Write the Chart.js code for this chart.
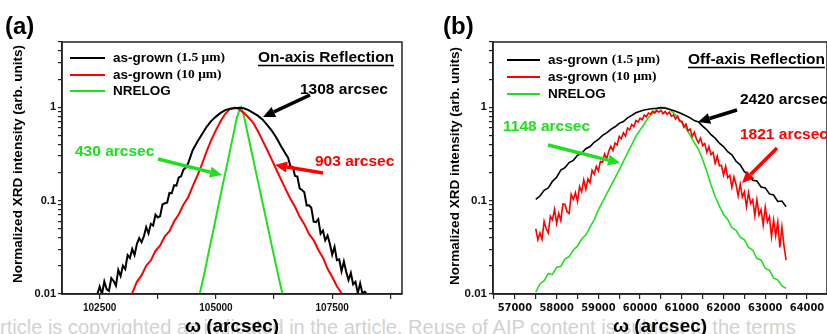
<!DOCTYPE html>
<html>
<head>
<meta charset="utf-8">
<script src="https://cdn.jsdelivr.net/npm/chart.js@4.4.0/dist/chart.umd.min.js"></script>
<style>
  html, body { margin: 0; padding: 0; background: #fff; }
  body { width: 827px; height: 334px; overflow: hidden; position: relative; }
  #wm { position: absolute; left: -11px; top: 316px; line-height: 20px; font: 20px "Liberation Sans", Arial, sans-serif; color: #d2d2d2; white-space: nowrap; }
  canvas { position: absolute; top: 0; }
  #chartA { left: 0; }
  #chartB { left: 410px; }
</style>
</head>
<body>
<div id="wm">article is copyrighted as indicated in the article. Reuse of AIP content is subject to the terms</div>
<canvas id="chartA" width="410" height="334"></canvas>
<canvas id="chartB" width="440" height="334"></canvas>
<script>
// ---- data ----
// panel (a), on-axis
const omegaBlackA = [102450, 102500, 102550, 102600, 102650, 102700, 102750, 102800, 102850, 102900,
  102950, 103000, 103050, 103100, 103150, 103200, 103250, 103300, 103350, 103400,
  103450, 103500, 103550, 103600, 103650, 103700, 103750, 103800, 103850, 103900,
  103950, 104000, 104050, 104100, 104150, 104200, 104250, 104300, 104350, 104400,
  104500, 104600, 104700, 104800, 104900, 105000, 105100, 105200, 105300, 105400,
  105500, 105600, 105700, 105800, 105900, 106000, 106100, 106200, 106300, 106400,
  106500, 106550, 106600, 106650, 106700, 106750, 106800, 106850, 106900, 106950,
  107000, 107050, 107100, 107150, 107200, 107250, 107300, 107350, 107400, 107450,
  107500, 107550, 107600, 107650, 107700, 107750, 107800, 107850, 107900, 107950,
  108000, 108050, 108100, 108150, 108200, 108250];
const blackA = [0.0100, 0.0120, 0.0100, 0.0136, 0.0113, 0.0108, 0.0148, 0.0138, 0.0123, 0.0181,
  0.0156, 0.0201, 0.0185, 0.0261, 0.0243, 0.0303, 0.0262, 0.0343, 0.0398, 0.0359,
  0.0414, 0.0521, 0.0446, 0.0564, 0.0541, 0.0706, 0.0660, 0.0683, 0.0909, 0.0937,
  0.0949, 0.121, 0.120, 0.146, 0.145, 0.177, 0.182, 0.214, 0.226, 0.25,
  0.347, 0.427, 0.513, 0.617, 0.716, 0.794, 0.871, 0.933, 0.966, 0.977,
  0.99, 0.977, 0.933, 0.871, 0.813, 0.741, 0.646, 0.562, 0.472, 0.383,
  0.316, 0.289, 0.233, 0.229, 0.184, 0.181, 0.135, 0.130, 0.123, 0.0888,
  0.0893, 0.084, 0.0594, 0.0588, 0.0633, 0.0442, 0.0477, 0.0375, 0.0422, 0.0343,
  0.0264, 0.0320, 0.0230, 0.0235, 0.0175, 0.0223, 0.0173, 0.0141, 0.0168, 0.0127,
  0.0135, 0.0102, 0.0130, 0.0101, 0.0106, 0.0098];

const omegaRedA = [103200, 103300, 103400, 103500, 103600, 103700, 103800, 103900, 104000, 104100,
  104200, 104300, 104400, 104500, 104600, 104700, 104800, 104900, 105000, 105100,
  105200, 105300, 105400, 105500, 105600, 105700, 105800, 105900, 106000, 106100,
  106200, 106300, 106400, 106500, 106600, 106700, 106800, 106900, 107000, 107100,
  107200, 107300, 107400, 107500, 107600, 107700];
const redA = [0.0102, 0.0135, 0.0158, 0.0201, 0.0229, 0.0290, 0.0332, 0.0415, 0.0470, 0.0598,
  0.0715, 0.0902, 0.108, 0.142, 0.185, 0.246, 0.338, 0.447, 0.569, 0.708,
  0.851, 0.955, 0.99, 0.955, 0.871, 0.776, 0.684, 0.556, 0.442, 0.351,
  0.275, 0.214, 0.168, 0.132, 0.105, 0.086, 0.067, 0.056, 0.0440, 0.0378,
  0.0298, 0.0245, 0.0186, 0.0152, 0.0121, 0.0102];

const omegaGreenA = [104650, 104750, 104850, 104950, 105050, 105150, 105250, 105350, 105450, 105500,
  105540, 105600, 105700, 105800, 105900, 106000, 106100, 106200, 106300, 106400, 106440];
const greenA = [0.0100, 0.0166, 0.029, 0.050, 0.087, 0.151, 0.257, 0.447, 0.776, 0.92,
  1.0, 0.81, 0.475, 0.279, 0.164, 0.096, 0.0565, 0.033, 0.0195, 0.0115, 0.0098];

// panel (b), off-axis
const omegaB = [57500, 57600, 57700, 57800, 57900, 58000, 58100, 58200, 58300, 58400,
  58500, 58600, 58700, 58800, 58900, 59000, 59100, 59200, 59300, 59400,
  59500, 59600, 59700, 59800, 59900, 60000, 60100, 60200, 60300, 60400,
  60500, 60600, 60700, 60800, 60900, 61000, 61100, 61200, 61300, 61400,
  61500, 61600, 61700, 61800, 61900, 62000, 62100, 62200, 62300, 62400,
  62500, 62600, 62700, 62800, 62900, 63000, 63100, 63200, 63300, 63400, 63500];
const blackB = [0.103, 0.112, 0.129, 0.137, 0.161, 0.178, 0.212, 0.226, 0.256, 0.270,
  0.306, 0.322, 0.360, 0.380, 0.422, 0.452, 0.500, 0.532, 0.581, 0.618,
  0.672, 0.703, 0.770, 0.818, 0.874, 0.908, 0.936, 0.952, 0.968, 0.975,
  0.99, 0.978, 0.953, 0.925, 0.888, 0.853, 0.810, 0.770, 0.720, 0.695,
  0.628, 0.573, 0.508, 0.467, 0.412, 0.380, 0.334, 0.310, 0.264, 0.242,
  0.204, 0.189, 0.165, 0.162, 0.140, 0.137, 0.118, 0.115, 0.098, 0.099, 0.086];

const omegaRedB = [57500, 57550, 57600, 57650, 57700, 57750, 57800, 57850, 57900, 57950,
  58000, 58050, 58100, 58150, 58200, 58250, 58300, 58350, 58400, 58450,
  58500, 58550, 58600, 58650, 58700, 58750, 58800, 58850, 58900, 58950,
  59000, 59050, 59100, 59150, 59200, 59250, 59300, 59350, 59400, 59450,
  59500, 59550, 59600, 59650, 59700, 59750, 59800, 59850, 59900, 59950,
  60000, 60050, 60100, 60150, 60200, 60250, 60300, 60350, 60400, 60450,
  60500, 60550, 60600, 60650, 60700, 60750, 60800, 60850, 60900, 60950,
  61000, 61050, 61100, 61150, 61200, 61250, 61300, 61350, 61400, 61450,
  61500, 61550, 61600, 61650, 61700, 61750, 61800, 61850, 61900, 61950,
  62000, 62050, 62100, 62150, 62200, 62250, 62300, 62350, 62400, 62450,
  62500, 62550, 62600, 62650, 62700, 62750, 62800, 62850, 62900, 62950,
  63000, 63050, 63100, 63150, 63200, 63250, 63300, 63350, 63400, 63450, 63500];
const redB = [0.050, 0.038, 0.045, 0.0385, 0.060, 0.050, 0.045, 0.068, 0.062, 0.081,
  0.057, 0.073, 0.061, 0.092, 0.091, 0.076, 0.073, 0.117, 0.103, 0.122,
  0.098, 0.141, 0.124, 0.167, 0.132, 0.171, 0.155, 0.212, 0.192, 0.233,
  0.209, 0.263, 0.258, 0.316, 0.281, 0.339, 0.383, 0.344, 0.414, 0.394,
  0.488, 0.460, 0.532, 0.491, 0.601, 0.574, 0.655, 0.618, 0.720, 0.695,
  0.763, 0.736, 0.826, 0.792, 0.866, 0.844, 0.907, 0.864, 0.920, 0.884,
  0.929, 0.855, 0.899, 0.840, 0.885, 0.799, 0.829, 0.750, 0.805, 0.706,
  0.706, 0.611, 0.661, 0.562, 0.584, 0.489, 0.541, 0.457, 0.416, 0.468,
  0.387, 0.409, 0.330, 0.380, 0.311, 0.328, 0.251, 0.299, 0.236, 0.239,
  0.188, 0.233, 0.176, 0.187, 0.139, 0.179, 0.149, 0.112, 0.150, 0.109,
  0.124, 0.086, 0.122, 0.093, 0.102, 0.069, 0.102, 0.070, 0.080, 0.055,
  0.085, 0.059, 0.067, 0.041, 0.062, 0.042, 0.059, 0.0315, 0.052, 0.0324, 0.023];

const greenB = [0.0105, 0.0128, 0.0139, 0.0165, 0.0162, 0.0192, 0.0198, 0.0238, 0.0250, 0.0296,
  0.0325, 0.0388, 0.0430, 0.0520, 0.0622, 0.0795, 0.097, 0.118, 0.144, 0.175,
  0.214, 0.263, 0.324, 0.398, 0.49, 0.569, 0.661, 0.776, 0.861, 0.955,
  0.989, 1.0, 0.955, 0.871, 0.776, 0.692, 0.596, 0.501, 0.417, 0.355,
  0.275, 0.204, 0.148, 0.110, 0.088, 0.0710, 0.0628, 0.0512, 0.0480, 0.0405,
  0.0380, 0.0315, 0.0296, 0.0240, 0.0232, 0.0188, 0.0180, 0.0148, 0.0142, 0.0122, 0.0115];

// ticks
const xTicksA = [102500, 103750, 105000, 106250, 107500, 108750];
const xLabelsA = [102500, 105000, 107500];
const xTicksB = [56500, 57000, 57500, 58000, 58500, 59000, 59500, 60000, 60500, 61000, 61500, 62000, 62500, 63000, 63500, 64000];
const xLabelsB = [57000, 58000, 59000, 60000, 61000, 62000, 63000, 64000];
const yTicks = [0.01, 0.02, 0.03, 0.04, 0.05, 0.06, 0.07, 0.08, 0.09, 0.1, 0.2, 0.3, 0.4, 0.5, 0.6, 0.7, 0.8, 0.9, 1, 2, 3, 4, 5];
const yLabels = [0.01, 0.1, 1];

const seriesNames = ['as-grown ', 'as-grown ', 'NRELOG'];
const seriesNotes = ['(1.5 μm)', '(10 μm)', ''];

const BLACK = '#000000', RED = '#ff0000', GREEN = '#1ee01e';
const SANS = '"Liberation Sans", Arial, sans-serif';
const SERIF = '"Liberation Serif", "Times New Roman", serif';
const colors = [BLACK, RED, GREEN];

function drawArrow(ctx, color, from, to) {
  const ang = Math.atan2(to[1] - from[1], to[0] - from[0]);
  const hl = 12, hw = 5.5;
  const bx = to[0] - hl * Math.cos(ang), by = to[1] - hl * Math.sin(ang);
  ctx.strokeStyle = color; ctx.fillStyle = color; ctx.lineWidth = 3.5;
  ctx.beginPath(); ctx.moveTo(from[0], from[1]); ctx.lineTo(bx, by); ctx.stroke();
  ctx.beginPath();
  ctx.moveTo(to[0], to[1]);
  ctx.lineTo(bx + hw * Math.sin(ang), by - hw * Math.cos(ang));
  ctx.lineTo(bx - hw * Math.sin(ang), by + hw * Math.cos(ang));
  ctx.closePath(); ctx.fill();
}

// frame, titles, legend and notes drawn on top of the chart
function decor(cfg) {
  return {
    id: 'decor',
    afterDraw(chart) {
      const ctx = chart.ctx, a = chart.chartArea;
      ctx.save();
      ctx.strokeStyle = '#222'; ctx.lineWidth = 1.5;
      ctx.strokeRect(a.left, a.top, a.right - a.left, a.bottom - a.top);

      ctx.fillStyle = '#000';
      ctx.textBaseline = 'middle'; ctx.textAlign = 'left';
      ctx.font = 'bold 24px ' + SANS;
      ctx.fillText(cfg.panel.text, cfg.panel.x, cfg.panel.y);

      ctx.font = 'bold 19px ' + SANS;
      ctx.textAlign = 'center'; ctx.textBaseline = 'alphabetic';
      ctx.fillText('ω (arcsec)', cfg.xTitle.x, cfg.xTitle.y);

      ctx.save();
      ctx.translate(cfg.yTitle.x, cfg.yTitle.y);
      ctx.rotate(-Math.PI / 2);
      ctx.font = 'bold 13.5px ' + SANS;
      ctx.textBaseline = 'middle';
      ctx.fillText('Normalized XRD intensity (arb. units)', 0, 0);
      ctx.restore();

      // legend
      ctx.textAlign = 'left'; ctx.textBaseline = 'middle';
      cfg.legend.rows.forEach((y, i) => {
        ctx.strokeStyle = colors[i]; ctx.lineWidth = 2;
        ctx.beginPath(); ctx.moveTo(cfg.legend.x0, y); ctx.lineTo(cfg.legend.x1, y); ctx.stroke();
        ctx.fillStyle = '#000';
        ctx.font = 'bold 13.5px ' + SANS;
        ctx.fillText(seriesNames[i], cfg.legend.tx, y);
        const w = ctx.measureText(seriesNames[i]).width;
        ctx.font = 'bold 13.5px ' + SERIF;
        ctx.fillText(seriesNotes[i], cfg.legend.tx + w, y);
      });

      // reflection label, underlined
      ctx.font = 'bold 15.5px ' + SANS;
      ctx.fillStyle = '#000';
      ctx.fillText(cfg.reflection.text, cfg.reflection.x, cfg.reflection.y);
      const rw = ctx.measureText(cfg.reflection.text).width;
      ctx.strokeStyle = '#000'; ctx.lineWidth = 1.3;
      ctx.beginPath();
      ctx.moveTo(cfg.reflection.x, cfg.reflection.y + 7.5);
      ctx.lineTo(cfg.reflection.x + rw, cfg.reflection.y + 7.5);
      ctx.stroke();

      cfg.notes.forEach(n => {
        ctx.fillStyle = n.color;
        ctx.font = 'bold 15.5px ' + SANS;
        ctx.fillText(n.text, n.x, n.y);
      });
      cfg.arrows.forEach(ar => drawArrow(ctx, ar.color, ar.from, ar.to));
      ctx.restore();
    }
  };
}

function makeChart(id, series, xRange, xTicks, xLabels, yWidth, padRight, xFont, yFont, lineW, cfg) {
  return new Chart(document.getElementById(id), {
    type: 'line',
    data: {
      datasets: series.map((s, i) => ({
        data: s.x.map((x, j) => ({ x: x, y: s.y[j] })),
        borderColor: colors[i],
        borderWidth: lineW,
        pointRadius: 0,
        tension: 0,
        fill: false
      }))
    },
    options: {
      responsive: false,
      animation: false,
      events: [],
      layout: { padding: { left: 0, right: padRight, top: 42, bottom: 0 } },
      plugins: { legend: { display: false }, tooltip: { enabled: false } },
      scales: {
        x: {
          type: 'linear', min: xRange[0], max: xRange[1],
          afterBuildTicks: sc => { sc.ticks = xTicks.map(v => ({ value: v })); },
          afterFit: sc => { sc.height = 40; sc.paddingLeft = 0; sc.paddingRight = 0; },
          ticks: {
            autoSkip: false, maxRotation: 0, padding: 3, color: '#111', font: xFont,
            callback: v => xLabels.includes(v) ? String(v) : ''
          },
          grid: { drawOnChartArea: false, drawTicks: true, tickLength: 5, color: '#222', lineWidth: 1.2 },
          border: { display: true, color: '#222', width: 1.5 }
        },
        y: {
          type: 'logarithmic', min: 0.01, max: 5,
          afterBuildTicks: sc => { sc.ticks = yTicks.map(v => ({ value: v })); },
          afterFit: sc => { sc.width = yWidth; sc.paddingTop = 0; sc.paddingBottom = 0; },
          ticks: {
            autoSkip: false, padding: 2, color: '#111', font: yFont,
            callback: v => yLabels.includes(v) ? String(v) : ''
          },
          grid: { drawOnChartArea: false, drawTicks: true, tickLength: 4, color: '#222', lineWidth: 1.2 },
          border: { display: true, color: '#222', width: 1.5 }
        }
      }
    },
    plugins: [decor(cfg)]
  });
}

makeChart('chartA',
  [{ x: omegaBlackA, y: blackA }, { x: omegaRedA, y: redA }, { x: omegaGreenA, y: greenA }],
  [101690, 109000], xTicksA, xLabelsA, 62, 8,
  { family: SANS, size: 10, weight: 'bold' }, { family: SANS, size: 11, weight: 'bold' }, 2,
  {
    panel: { text: '(a)', x: 5, y: 27 },
    xTitle: { x: 232, y: 332 },
    yTitle: { x: 18, y: 164 },
    legend: { x0: 70, x1: 105, tx: 113, rows: [58, 75, 91] },
    reflection: { text: 'On-axis Reflection', x: 258, y: 58 },
    notes: [
      { text: '1308 arcsec', color: BLACK, x: 300, y: 90 },
      { text: '430 arcsec', color: GREEN, x: 75, y: 152 },
      { text: '903 arcsec', color: RED, x: 315, y: 162 }
    ],
    arrows: [
      { color: BLACK, from: [310, 95], to: [263, 117] },
      { color: GREEN, from: [158, 159], to: [222, 175] },
      { color: RED, from: [323, 173], to: [275, 165] }
    ]
  });

makeChart('chartB',
  [{ x: omegaB, y: blackB }, { x: omegaRedB, y: redB }, { x: omegaB, y: greenB }],
  [56475, 64480], xTicksB, xLabelsB, 83, 23,
  { family: '"Liberation Sans Narrow", "DejaVu Sans Condensed", ' + SANS, size: 11, weight: 'bold' },
  { family: SANS, size: 11.5, weight: 'bold' }, 1.6,
  {
    panel: { text: '(b)', x: 33, y: 27 },
    xTitle: { x: 250, y: 332 },
    yTitle: { x: 45, y: 166 },
    legend: { x0: 97, x1: 130, tx: 138, rows: [60, 77, 94] },
    reflection: { text: 'Off-axis Reflection', x: 278, y: 60 },
    notes: [
      { text: '2420 arcsec', color: BLACK, x: 330, y: 100 },
      { text: '1148 arcsec', color: GREEN, x: 93, y: 127 },
      { text: '1821 arcsec', color: RED, x: 330, y: 135 }
    ],
    arrows: [
      { color: BLACK, from: [327, 110], to: [288, 122] },
      { color: GREEN, from: [138, 145], to: [210, 163] },
      { color: RED, from: [367, 148], to: [332, 183] }
    ]
  });
</script>
</body>
</html>
